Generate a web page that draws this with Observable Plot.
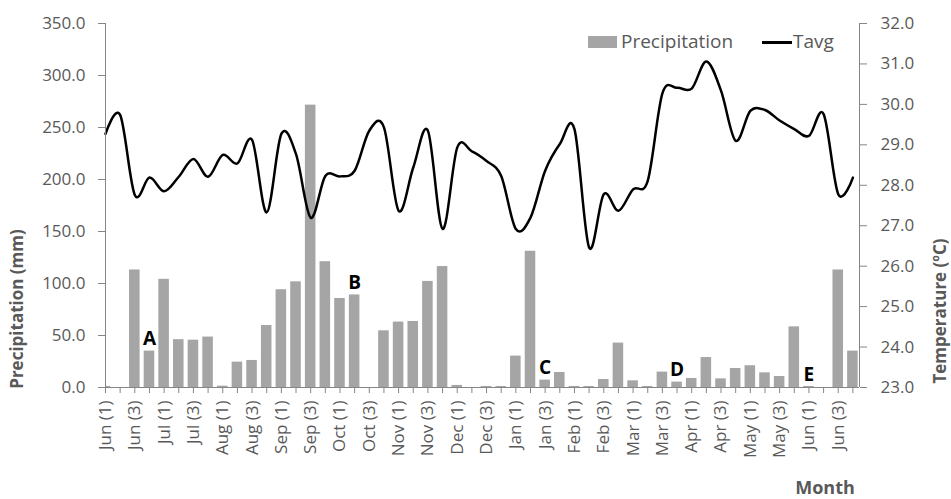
<!DOCTYPE html>
<html><head><meta charset="utf-8">
<script src="https://cdn.jsdelivr.net/npm/d3@7"></script>
<script src="https://cdn.jsdelivr.net/npm/@observablehq/plot@0.6"></script>
<style>
body{margin:0;background:#fff;}
#chart{position:relative;width:951px;height:499px;font-family:"Open Sans",sans-serif;color:#595959;}
.sw{position:absolute;}
.lt{position:absolute;font-size:19px;line-height:22px;color:#595959;white-space:nowrap;}
</style></head><body><div id="chart"></div>
<script>
const months = ["Jun","Jul","Aug","Sep","Oct","Nov","Dec","Jan","Feb","Mar","Apr","May","Jun"];
const weeks = [1,2,3,4];
const precipitation = [1,0,113,35,104,46,45.5,48.5,1.3,24.4,
  26,59.6,94,101.6,271.5,121,85.6,89,0,54.5,
  62.9,63.5,102,116.3,2,0,1,1,30.2,131,
  7.1,14.4,1,1,7.7,42.7,6.4,1,14.8,5.2,
  8.7,28.8,8.3,18.3,20.9,14.1,10.6,58.3,1,0,
  113,35];
const tavg = [29.27,29.74,27.76,28.19,27.85,28.21,28.65,28.21,28.75,28.54,
  29.12,27.33,29.27,28.77,27.2,28.23,28.22,28.36,29.35,29.43,
  27.37,28.44,29.35,26.92,28.93,28.84,28.6,28.23,26.92,27.2,
  28.36,29.02,29.39,26.46,27.78,27.37,27.9,28.11,30.27,30.41,
  30.39,31.06,30.34,29.1,29.84,29.86,29.6,29.39,29.22,29.76,
  27.78,28.19];
const annotLetters = ["A","B","C","D","E"];
const annotIndex = [3,17,30,39,48];
const precipTicks = [0,50,100,150,200,250,300,350];
const tempTicks = [23,24,25,26,27,28,29,30,31,32];

const labels = months.flatMap(m => weeks.map(w => `${m} (${w})`));
const toP = t => (t - 23) * 350 / 9;
const toT = p => p * 9 / 350 + 23;
const n = labels.length;
const xMax = n - 1 + 0.45;
const pData = precipitation.map((p, i) => ({i, p}));
const tData = tavg.map((t, i) => ({i, t}));
const aData = annotLetters.map((l, k) => ({l, i: annotIndex[k], p: precipitation[annotIndex[k]]}));

const axisStroke = "#868686", textFill = "#595959";
const plot = Plot.plot({
  width: 951, height: 499,
  marginLeft: 105, marginRight: 92, marginTop: 23, marginBottom: 112,
  style: {fontFamily: '"Open Sans", sans-serif', fontSize: "17px", background: "white"},
  x: {type: "linear", domain: [0, xMax]},
  y: {domain: [0, 350]},
  marks: [
    Plot.rect(pData, {x1: d => d.i - 0.36, x2: d => d.i + 0.36, y1: 0, y2: "p", fill: "#a5a5a5", clip: true}),
    Plot.line(tData, {x: "i", y: d => toP(d.t), curve: "cardinal", stroke: "black", strokeWidth: 2.5}),
    Plot.text(aData, {x: "i", y: "p", text: "l", dy: -12, fontWeight: "bold", fontSize: 19, fill: "black"}),
    Plot.ruleY([0], {stroke: axisStroke}),
    Plot.ruleX([0, xMax], {stroke: axisStroke}),
    Plot.axisY({ticks: precipTicks, tickFormat: d => d.toFixed(1), tickSize: 7, tickPadding: 13, label: null, stroke: axisStroke, fill: textFill}),
    Plot.axisY({anchor: "right", ticks: tempTicks.map(toP), tickFormat: p => toT(p).toFixed(1), tickSize: 7, tickPadding: 14, label: null, stroke: axisStroke, fill: textFill}),
    Plot.axisX({ticks: d3.range(n), tickFormat: i => i % 2 === 0 ? labels[i] : "", tickRotate: -90, tickSize: 6, tickPadding: 7, label: null, stroke: axisStroke, fill: textFill})
  ]
});
const chart = document.getElementById("chart");
chart.appendChild(plot);
const svg = d3.select(plot);
svg.append("text").attr("transform", "translate(18,309) rotate(-90)").attr("text-anchor", "middle").attr("dominant-baseline", "middle")
  .attr("font-weight", "bold").attr("font-size", 17).attr("fill", textFill).text("Precipitation (mm)");
svg.append("text").attr("transform", "translate(941,311) rotate(-90)").attr("text-anchor", "middle").attr("dominant-baseline", "middle")
  .attr("font-weight", "bold").attr("font-size", 17).attr("fill", textFill).text("Temperature (ºC)");
svg.append("text").attr("x", 825).attr("y", 489).attr("text-anchor", "middle").attr("dominant-baseline", "middle")
  .attr("font-weight", "bold").attr("font-size", 18).attr("fill", textFill).text("Month");

// legend
const leg = [
  ["sw", {left: "588px", top: "36px", width: "29px", height: "12px", background: "#a5a5a5"}],
  ["lt", {left: "621px", top: "30px"}, "Precipitation"],
  ["sw", {left: "762px", top: "41px", width: "30px", height: "2.5px", background: "black"}],
  ["lt", {left: "793px", top: "30px"}, "Tavg"]
];
for (const [cls, st, txt] of leg) {
  const d = document.createElement("div");
  d.className = cls; Object.assign(d.style, st);
  if (txt) d.textContent = txt;
  chart.appendChild(d);
}
</script></body></html>
